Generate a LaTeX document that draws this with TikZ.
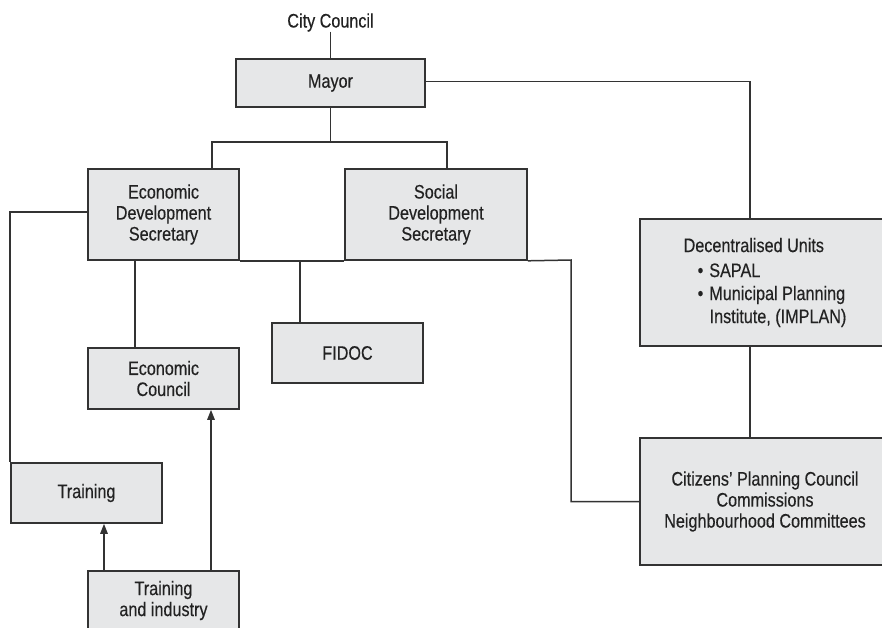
\documentclass[tikz,border=0pt]{standalone}
\usepackage{fontspec}
\setmainfont{Liberation Sans}[FakeStretch=0.83,FakeBold=0.35]
\usetikzlibrary{arrows.meta}
\definecolor{boxfill}{HTML}{E6E7E8}
\definecolor{ink}{HTML}{222222}
\definecolor{edge}{HTML}{333333}
\begin{document}
\begin{tikzpicture}[x=1pt,y=-1pt,
  orgbox/.style={draw=edge,line width=1.6pt,fill=boxfill,inner sep=0pt,align=center,text=ink,
    font=\fontsize{19.5}{21}\selectfont},
  conn/.style={draw=edge,line width=1.5pt},
  arr/.style={conn,-{Triangle[length=10pt,width=7.5pt]}}]
\useasboundingbox (0,0) rectangle (882,627);
\clip (0,0) rectangle (882,627);
\fill[white] (0,0) rectangle (882,627);

\node[text=ink,inner sep=0pt,font=\fontsize{19.5}{21}\selectfont,anchor=base] (cc) at (330.5,27.5) {City Council};
\node[orgbox,minimum width=189pt,minimum height=48pt] (mayor) at (330.5,83) {Mayor};
\node[orgbox,minimum width=151pt,minimum height=91pt] (eds) at (163.5,214.5) {Economic\\Development\\Secretary};
\node[orgbox,minimum width=182pt,minimum height=91pt] (sds) at (436,214.5) {Social\\Development\\Secretary};
\node[orgbox,minimum width=250pt,minimum height=127pt,align=left,
  font=\fontsize{19.5}{23}\selectfont] (du) at (765,282.5)
  {Decentralised Units\\[2pt]
   \hspace*{14pt}\textbullet\hspace{6pt}SAPAL\\
   \hspace*{14pt}\textbullet\hspace{6pt}Municipal Planning\\
   \hspace*{26pt}Institute, (IMPLAN)};
\node[orgbox,minimum width=250pt,minimum height=127pt] (cpc) at (765,501.5)
  {Citizens’ Planning Council\\Commissions\\Neighbourhood Committees};
\node[orgbox,minimum width=151pt,minimum height=60pt] (fidoc) at (347.5,353) {FIDOC};
\node[orgbox,minimum width=151pt,minimum height=61pt] (ec) at (163.5,378.5) {Economic\\Council};
\node[orgbox,minimum width=151pt,minimum height=60pt] (tr) at (86.5,493) {Training};
\node[orgbox,minimum width=151pt,minimum height=59pt] (ti) at (163.5,600.5) {Training\\and industry};

\coordinate (j1) at (330.5,142);
\coordinate (k) at (571,260);
\coordinate (f) at (300,260);

\draw[conn] (cc.south) -- (mayor.north);
\draw[conn] (mayor.south) -- (j1);
\draw[conn] ([xshift=48.5]eds.north) |- (j1) -| ([xshift=11]sds.north);
\draw[conn] ([yshift=1.5pt]mayor.east) -| ([xshift=-15]du.north);
\draw[conn] ([xshift=-15]du.south) -- ([xshift=-15]cpc.north);
\draw[conn] ([yshift=2.5pt]eds.west) -| (tr.north west);
\draw[conn] ([xshift=-28.5]eds.south) -- ([xshift=-28.5]ec.north);
\draw[conn] (eds.south east) -- (sds.south west);
\draw[conn] (sds.south east) -- (k) |- (cpc.west);
\draw[conn] (f) -- (f |- fidoc.north);
\draw[arr] ([xshift=-59.5]ti.north) -- ([xshift=-59.5]ti.north |- tr.south);
\draw[arr] ([xshift=47.5]ti.north) -- ([xshift=47.5]ti.north |- ec.south);
\end{tikzpicture}
\end{document}
